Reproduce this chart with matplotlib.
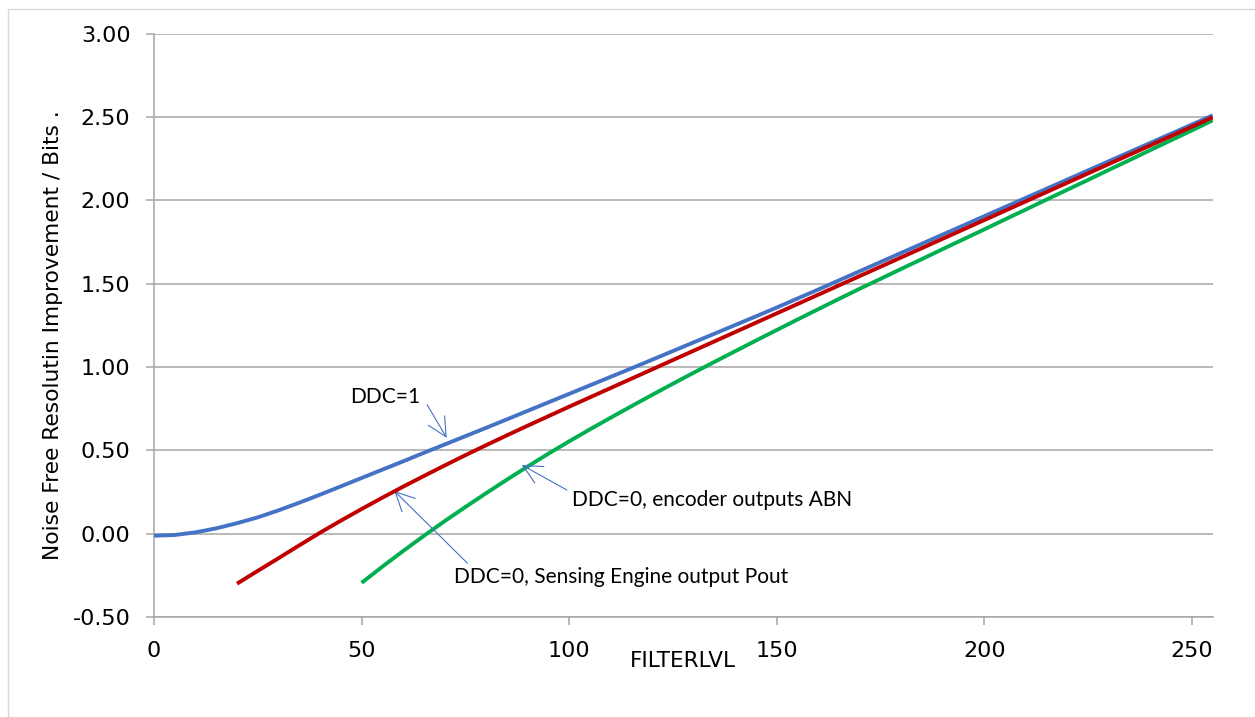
import matplotlib
matplotlib.use("Agg")
import matplotlib.pyplot as plt
from matplotlib.ticker import FormatStrFormatter
from matplotlib.patches import Rectangle

# FILTERLVL settings and measured noise-free resolution improvement (bits)
filterlvl_ddc1 = [0, 5, 10, 15, 20, 25, 30, 35, 40, 45, 50, 55, 60, 65, 70, 75, 80, 85,
                  90, 95, 100, 105, 110, 115, 120, 125, 130, 135, 140, 145, 150, 155,
                  160, 165, 170, 175, 180, 185, 190, 195, 200, 205, 210, 215, 220, 225,
                  230, 235, 240, 245, 250, 255]
bits_ddc1 = [-0.012, -0.008, 0.008, 0.032, 0.063, 0.098, 0.140, 0.186, 0.234, 0.284,
             0.334, 0.384, 0.434, 0.485, 0.535, 0.585, 0.635, 0.686, 0.737, 0.788,
             0.839, 0.890, 0.941, 0.992, 1.044, 1.096, 1.148, 1.200, 1.252, 1.304,
             1.357, 1.411, 1.465, 1.520, 1.575, 1.630, 1.685, 1.740, 1.795, 1.850,
             1.905, 1.960, 2.015, 2.070, 2.125, 2.180, 2.235, 2.290, 2.345, 2.400,
             2.455, 2.510]

filterlvl_pout = [20, 25, 30, 35, 40, 45, 50, 55, 60, 65, 70, 75, 80, 85, 90, 95, 100,
                  105, 110, 115, 120, 125, 130, 135, 140, 145, 150, 155, 160, 165, 170,
                  175, 180, 185, 190, 195, 200, 205, 210, 215, 220, 225, 230, 235, 240,
                  245, 250, 255]
bits_pout = [-0.300, -0.223, -0.147, -0.070, 0.006, 0.078, 0.148, 0.216, 0.282, 0.346,
             0.409, 0.471, 0.531, 0.590, 0.648, 0.705, 0.762, 0.818, 0.874, 0.930,
             0.986, 1.042, 1.098, 1.154, 1.210, 1.266, 1.322, 1.378, 1.434, 1.490,
             1.546, 1.602, 1.658, 1.714, 1.770, 1.826, 1.882, 1.938, 1.994, 2.050,
             2.106, 2.162, 2.218, 2.274, 2.330, 2.386, 2.442, 2.498]

filterlvl_abn = [50, 55, 60, 65, 70, 75, 80, 85, 90, 95, 100, 105, 110, 115, 120, 125,
                 130, 135, 140, 145, 150, 155, 160, 165, 170, 175, 180, 185, 190, 195,
                 200, 205, 210, 215, 220, 225, 230, 235, 240, 245, 250, 255]
bits_abn = [-0.295, -0.198, -0.104, -0.013, 0.075, 0.160, 0.243, 0.324, 0.403, 0.480,
            0.554, 0.626, 0.696, 0.765, 0.833, 0.900, 0.966, 1.031, 1.095, 1.159,
            1.222, 1.285, 1.347, 1.409, 1.470, 1.529, 1.589, 1.648, 1.708, 1.767,
            1.826, 1.886, 1.945, 2.005, 2.064, 2.123, 2.183, 2.242, 2.302, 2.361,
            2.420, 2.480]

x_ticks = [0, 50, 100, 150, 200, 250]
y_ticks = [-0.5, 0.0, 0.5, 1.0, 1.5, 2.0, 2.5, 3.0]

label_ddc1 = "DDC=1"
label_abn = "DDC=0, encoder outputs ABN"
label_pout = "DDC=0, Sensing Engine output Pout"

BLUE = "#4472C4"
RED = "#C00000"
GREEN = "#00B050"
GRID = "#a6a6a6"

fig = plt.figure(figsize=(12.55, 7.17), dpi=100)
# thin chart-area frame (only its top and left edges fall inside the image)
fig.patches.append(Rectangle((8 / 1255, -0.1), 1.2, 1 - 9 / 717 + 0.1,
                             transform=fig.transFigure, fill=False,
                             edgecolor="#d9d9d9", linewidth=1.0))
ax = fig.add_axes([154 / 1255, 1 - 617 / 717, (1212.7 - 154) / 1255, (617 - 33.7) / 717])

ax.plot(filterlvl_ddc1, bits_ddc1, color=BLUE, lw=2.8, solid_capstyle="butt", zorder=3)
ax.plot(filterlvl_pout, bits_pout, color=RED, lw=2.8, solid_capstyle="butt", zorder=4)
ax.plot(filterlvl_abn, bits_abn, color=GREEN, lw=2.8, solid_capstyle="butt", zorder=2)

ax.set_xlim(0, 255)
ax.set_ylim(-0.5, 3.0)
ax.set_xticks(x_ticks)
ax.set_yticks(y_ticks)
ax.yaxis.set_major_formatter(FormatStrFormatter("%.2f"))
ax.grid(axis="y", color=GRID, lw=1.1)
ax.set_axisbelow(True)

for side in ("top", "right"):
    ax.spines[side].set_visible(False)
for side in ("left", "bottom"):
    ax.spines[side].set_color(GRID)
    ax.spines[side].set_linewidth(1.1)
ax.tick_params(axis="both", colors=GRID, length=6, width=1.1, labelcolor="black",
               labelsize=16, pad=11)

ax.set_xlabel("FILTERLVL", fontsize=15.5, va="center")
ax.xaxis.set_label_coords(0.4997, -0.0754)
ax.set_ylabel("Noise Free Resolutin Improvement / Bits .", fontsize=15.7, va="center")
ax.yaxis.set_label_coords(-0.0955, 0.483)

arrow = dict(arrowstyle="->,head_length=0.9,head_width=0.45", color=BLUE, lw=0.8,
             shrinkA=0, shrinkB=0)
font_note = dict(family=["Lato", "DejaVu Sans"], fontsize=15)

ax.annotate(label_ddc1, xy=(70.5, 0.575), xytext=(47.2, 0.822), va="center",
            ha="left", arrowprops=dict(arrow, relpos=(1.1, 0.1)), **font_note)
ax.annotate(label_abn, xy=(88.6, 0.412), xytext=(100.8, 0.202), va="center",
            ha="left", arrowprops=dict(arrow, relpos=(-0.02, 1.0)), **font_note)
ax.annotate(label_pout, xy=(57.9, 0.256), xytext=(72.3, -0.262), va="center",
            ha="left", arrowprops=dict(arrow, relpos=(0.04, 1.2)), **font_note)

fig.savefig("out.png", dpi=100)
